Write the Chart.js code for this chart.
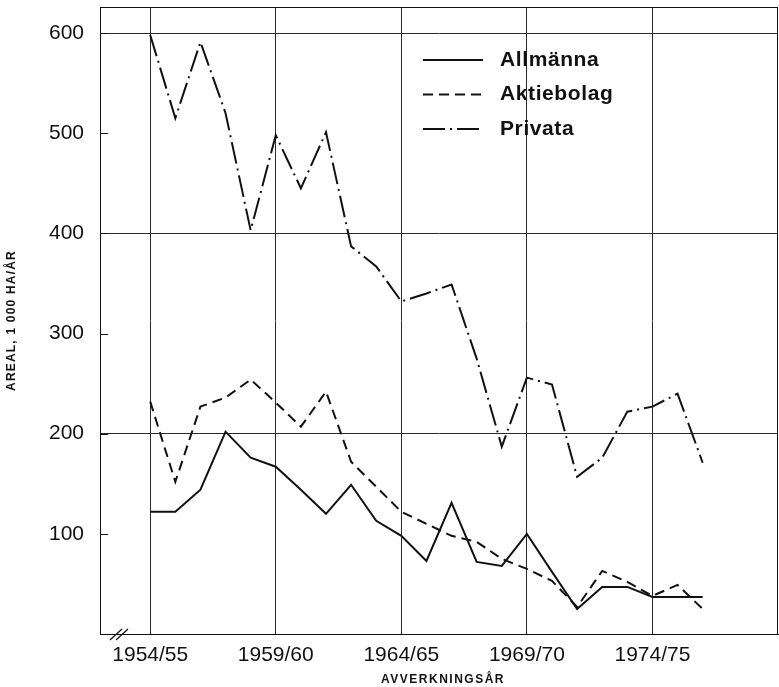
<!DOCTYPE html>
<html>
<head>
<meta charset="utf-8">
<script src="https://cdn.jsdelivr.net/npm/chart.js@4.4.1/dist/chart.umd.min.js"></script>
<style>
  html, body { margin: 0; padding: 0; background: #fff; }
  canvas { display: block; }
</style>
</head>
<body>
<canvas id="chart" width="779" height="687"></canvas>
<script>
// avverkningsår, first year of each season (1954 = 1954/55)
var years = [1954, 1955, 1956, 1957, 1958, 1959, 1960, 1961, 1962, 1963, 1964, 1965,
             1966, 1967, 1968, 1969, 1970, 1971, 1972, 1973, 1974, 1975, 1976];

// areal, 1 000 ha/år
var allmanna   = [122, 122, 144, 202, 176, 167, 144, 120, 149, 113, 98, 73,
                  131, 72, 68, 100, 62, 25, 47, 47, 37, 37, 37];
var aktiebolag = [232, 152, 227, 236, 254, 231, 207, 242, 172, 147, 122, 110,
                  98, 92, 75, 65, 53, 27, 63, 52, 38, 49, 25];
var privata    = [598, 515, 591, 520, 403, 498, 445, 501, 387, 367, 332, 340,
                  349, 275, 187, 256, 249, 157, 176, 222, 227, 240, 171];

var seriesNames = ['Allmänna', 'Aktiebolag', 'Privata'];
var xTicks = [1954, 1959, 1964, 1969, 1974];
var yTicks = [100, 200, 300, 400, 500, 600];
var yTitle = 'AREAL, 1 000 HA/ÅR';
var xTitle = 'AVVERKNINGSÅR';

function pts(vals) {
  return vals.map(function (v, i) { return { x: years[i], y: v }; });
}

var ink = '#111';
var gridInk = '#2a2a2a';

// no extra room for half labels at the ends of the axes
function pinPadding(s) {
  s.paddingTop = 0; s.paddingBottom = 0;
  s.paddingLeft = 0; s.paddingRight = 0;
}

// frame, inner tick marks, axis break, legend and axis titles
var decor = {
  id: 'decor',
  afterDraw: function (chart) {
    var ctx = chart.ctx, a = chart.chartArea;
    ctx.save();
    ctx.strokeStyle = ink;
    ctx.lineWidth = 1;
    ctx.setLineDash([]);
    ctx.strokeRect(a.left + 0.5, a.top + 0.5, a.right - a.left - 1, a.bottom - a.top);

    // short tick marks inside the left axis
    var ys = chart.scales.y;
    yTicks.forEach(function (v) {
      var py = Math.round(ys.getPixelForValue(v)) + 0.5;
      ctx.beginPath();
      ctx.moveTo(a.left, py);
      ctx.lineTo(a.left + 8, py);
      ctx.stroke();
    });

    // axis break //
    ctx.lineWidth = 1.2;
    [a.left + 16, a.left + 22].forEach(function (cx) {
      ctx.beginPath();
      ctx.moveTo(cx - 6, a.bottom + 6);
      ctx.lineTo(cx + 6, a.bottom - 5);
      ctx.stroke();
    });

    // legend
    var lx = a.left + 323, ly = a.top + 53, step = 34.5;
    chart.data.datasets.forEach(function (ds, i) {
      var y = ly + i * step;
      ctx.strokeStyle = ink;
      ctx.lineWidth = 2;
      ctx.setLineDash(ds.borderDash || []);
      ctx.beginPath();
      ctx.moveTo(lx, y);
      ctx.lineTo(lx + 60, y);
      ctx.stroke();
      ctx.setLineDash([]);
      ctx.fillStyle = ink;
      ctx.font = 'bold 21px "Liberation Sans", Arial, sans-serif';
      ctx.textBaseline = 'middle';
      ctx.textAlign = 'left';
      ctx.letterSpacing = '0.6px';
      ctx.fillText(ds.label, lx + 77, y);
    });

    // axis titles
    ctx.letterSpacing = '1.5px';
    ctx.fillStyle = ink;
    ctx.font = 'bold 12px "Liberation Sans", Arial, sans-serif';
    ctx.textAlign = 'center';
    ctx.textBaseline = 'middle';
    ctx.fillText(xTitle, (a.left + a.right) / 2 + 4, 680);

    ctx.translate(12, (a.top + a.bottom) / 2);
    ctx.rotate(-Math.PI / 2);
    ctx.font = 'bold 12px "Liberation Sans", Arial, sans-serif';
    ctx.letterSpacing = '1.2px';
    ctx.fillText(yTitle, 0, 0);
    ctx.restore();
  }
};

var styles = [
  { borderDash: [] },
  { borderDash: [10, 6] },
  { borderDash: [22, 5, 2, 5] }
];
var seriesData = [allmanna, aktiebolag, privata];

new Chart(document.getElementById('chart'), {
  type: 'line',
  data: {
    datasets: seriesData.map(function (vals, i) {
      return {
        label: seriesNames[i],
        data: pts(vals),
        borderColor: ink,
        borderWidth: 2,
        borderDash: styles[i].borderDash,
        pointRadius: 0,
        tension: 0,
        fill: false
      };
    })
  },
  options: {
    responsive: false,
    animation: false,
    devicePixelRatio: 1,
    layout: { padding: { top: 7, right: 1, left: 0, bottom: 0 } },
    plugins: {
      legend: { display: false },
      title: { display: false },
      tooltip: { enabled: false }
    },
    scales: {
      x: {
        type: 'linear',
        min: 1952,
        max: 1979,
        afterBuildTicks: function (s) {
          s.ticks = xTicks.map(function (v) { return { value: v }; });
        },
        afterFit: function (s) { s.height = 53; pinPadding(s); },
        grid: { color: gridInk, lineWidth: 1, drawTicks: false },
        border: { display: true, color: ink, width: 1 },
        ticks: {
          padding: 9,
          color: ink,
          maxRotation: 0,
          autoSkip: false,
          font: { family: '"Liberation Sans", Arial, sans-serif', size: 21 },
          callback: function (v) {
            return v + '/' + String((v + 1) % 100).padStart(2, '0');
          }
        }
      },
      y: {
        min: 0,
        max: 626,
        afterBuildTicks: function (s) {
          s.ticks = yTicks.map(function (v) { return { value: v }; });
        },
        afterFit: function (s) { s.width = 100; pinPadding(s); },
        grid: {
          drawTicks: false,
          lineWidth: 1,
          color: function (c) {
            return c.tick && c.tick.value % 200 === 0 ? gridInk : 'rgba(0,0,0,0)';
          }
        },
        border: { display: true, color: ink, width: 1 },
        ticks: {
          padding: 16,
          color: ink,
          font: { family: '"Liberation Sans", Arial, sans-serif', size: 21 }
        }
      }
    }
  },
  plugins: [decor]
});
</script>
</body>
</html>
